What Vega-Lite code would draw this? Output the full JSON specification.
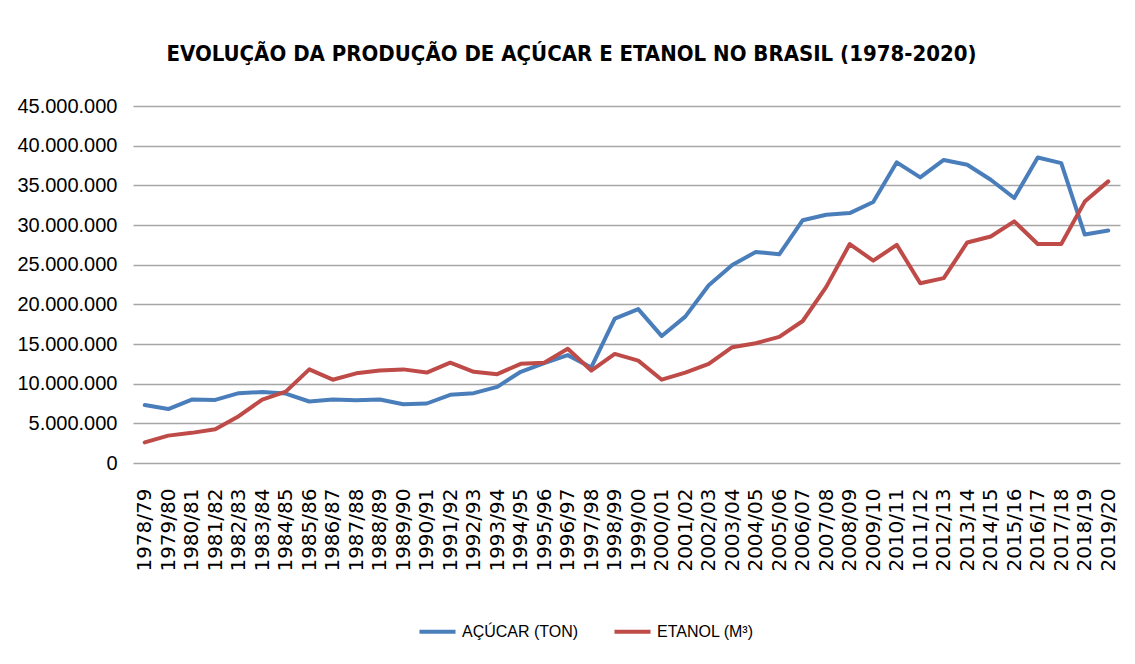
{
  "$schema": "https://vega.github.io/schema/vega-lite/v6.json",
  "autosize": "none",
  "width": 987,
  "height": 357,
  "padding": {"left": 133, "top": 106, "right": 15, "bottom": 201},
  "background": "white",
  "title": {
    "text": "EVOLUÇÃO DA PRODUÇÃO DE AÇÚCAR E ETANOL NO BRASIL (1978-2020)",
    "font": "DejaVu Sans Condensed",
    "fontSize": 22,
    "fontWeight": "bold",
    "color": "#000000",
    "anchor": "middle",
    "dx": -55,
    "offset": 30
  },
  "config": {
    "locale": {"number": {"decimal": ",", "thousands": ".", "grouping": [3], "currency": ["R$", ""]}},
    "view": {"stroke": null},
    "axis": {"labelColor": "#000000"}
  },
  "data": {
    "values": [
      {"ano": "1978/79", "serie": "AÇÚCAR (TON)", "valor": 7300000},
      {"ano": "1979/80", "serie": "AÇÚCAR (TON)", "valor": 6800000},
      {"ano": "1980/81", "serie": "AÇÚCAR (TON)", "valor": 8000000},
      {"ano": "1981/82", "serie": "AÇÚCAR (TON)", "valor": 7950000},
      {"ano": "1982/83", "serie": "AÇÚCAR (TON)", "valor": 8800000},
      {"ano": "1983/84", "serie": "AÇÚCAR (TON)", "valor": 8950000},
      {"ano": "1984/85", "serie": "AÇÚCAR (TON)", "valor": 8750000},
      {"ano": "1985/86", "serie": "AÇÚCAR (TON)", "valor": 7750000},
      {"ano": "1986/87", "serie": "AÇÚCAR (TON)", "valor": 8000000},
      {"ano": "1987/88", "serie": "AÇÚCAR (TON)", "valor": 7900000},
      {"ano": "1988/89", "serie": "AÇÚCAR (TON)", "valor": 8000000},
      {"ano": "1989/90", "serie": "AÇÚCAR (TON)", "valor": 7400000},
      {"ano": "1990/91", "serie": "AÇÚCAR (TON)", "valor": 7500000},
      {"ano": "1991/92", "serie": "AÇÚCAR (TON)", "valor": 8600000},
      {"ano": "1992/93", "serie": "AÇÚCAR (TON)", "valor": 8800000},
      {"ano": "1993/94", "serie": "AÇÚCAR (TON)", "valor": 9600000},
      {"ano": "1994/95", "serie": "AÇÚCAR (TON)", "valor": 11500000},
      {"ano": "1995/96", "serie": "AÇÚCAR (TON)", "valor": 12600000},
      {"ano": "1996/97", "serie": "AÇÚCAR (TON)", "valor": 13600000},
      {"ano": "1997/98", "serie": "AÇÚCAR (TON)", "valor": 12050000},
      {"ano": "1998/99", "serie": "AÇÚCAR (TON)", "valor": 18200000},
      {"ano": "1999/00", "serie": "AÇÚCAR (TON)", "valor": 19400000},
      {"ano": "2000/01", "serie": "AÇÚCAR (TON)", "valor": 16000000},
      {"ano": "2001/02", "serie": "AÇÚCAR (TON)", "valor": 18450000},
      {"ano": "2002/03", "serie": "AÇÚCAR (TON)", "valor": 22400000},
      {"ano": "2003/04", "serie": "AÇÚCAR (TON)", "valor": 24950000},
      {"ano": "2004/05", "serie": "AÇÚCAR (TON)", "valor": 26600000},
      {"ano": "2005/06", "serie": "AÇÚCAR (TON)", "valor": 26300000},
      {"ano": "2006/07", "serie": "AÇÚCAR (TON)", "valor": 30600000},
      {"ano": "2007/08", "serie": "AÇÚCAR (TON)", "valor": 31300000},
      {"ano": "2008/09", "serie": "AÇÚCAR (TON)", "valor": 31500000},
      {"ano": "2009/10", "serie": "AÇÚCAR (TON)", "valor": 32900000},
      {"ano": "2010/11", "serie": "AÇÚCAR (TON)", "valor": 37900000},
      {"ano": "1011/12", "serie": "AÇÚCAR (TON)", "valor": 36000000},
      {"ano": "2012/13", "serie": "AÇÚCAR (TON)", "valor": 38200000},
      {"ano": "2013/14", "serie": "AÇÚCAR (TON)", "valor": 37600000},
      {"ano": "2014/15", "serie": "AÇÚCAR (TON)", "valor": 35700000},
      {"ano": "2015/16", "serie": "AÇÚCAR (TON)", "valor": 33400000},
      {"ano": "2016/17", "serie": "AÇÚCAR (TON)", "valor": 38500000},
      {"ano": "2017/18", "serie": "AÇÚCAR (TON)", "valor": 37800000},
      {"ano": "2018/19", "serie": "AÇÚCAR (TON)", "valor": 28800000},
      {"ano": "2019/20", "serie": "AÇÚCAR (TON)", "valor": 29300000},
      {"ano": "1978/79", "serie": "ETANOL (M³)", "valor": 2600000},
      {"ano": "1979/80", "serie": "ETANOL (M³)", "valor": 3450000},
      {"ano": "1980/81", "serie": "ETANOL (M³)", "valor": 3800000},
      {"ano": "1981/82", "serie": "ETANOL (M³)", "valor": 4250000},
      {"ano": "1982/83", "serie": "ETANOL (M³)", "valor": 5900000},
      {"ano": "1983/84", "serie": "ETANOL (M³)", "valor": 8000000},
      {"ano": "1984/85", "serie": "ETANOL (M³)", "valor": 9000000},
      {"ano": "1985/86", "serie": "ETANOL (M³)", "valor": 11800000},
      {"ano": "1986/87", "serie": "ETANOL (M³)", "valor": 10500000},
      {"ano": "1987/88", "serie": "ETANOL (M³)", "valor": 11300000},
      {"ano": "1988/89", "serie": "ETANOL (M³)", "valor": 11650000},
      {"ano": "1989/90", "serie": "ETANOL (M³)", "valor": 11800000},
      {"ano": "1990/91", "serie": "ETANOL (M³)", "valor": 11400000},
      {"ano": "1991/92", "serie": "ETANOL (M³)", "valor": 12650000},
      {"ano": "1992/93", "serie": "ETANOL (M³)", "valor": 11500000},
      {"ano": "1993/94", "serie": "ETANOL (M³)", "valor": 11200000},
      {"ano": "1994/95", "serie": "ETANOL (M³)", "valor": 12500000},
      {"ano": "1995/96", "serie": "ETANOL (M³)", "valor": 12650000},
      {"ano": "1996/97", "serie": "ETANOL (M³)", "valor": 14400000},
      {"ano": "1997/98", "serie": "ETANOL (M³)", "valor": 11650000},
      {"ano": "1998/99", "serie": "ETANOL (M³)", "valor": 13750000},
      {"ano": "1999/00", "serie": "ETANOL (M³)", "valor": 12900000},
      {"ano": "2000/01", "serie": "ETANOL (M³)", "valor": 10500000},
      {"ano": "2001/02", "serie": "ETANOL (M³)", "valor": 11400000},
      {"ano": "2002/03", "serie": "ETANOL (M³)", "valor": 12500000},
      {"ano": "2003/04", "serie": "ETANOL (M³)", "valor": 14600000},
      {"ano": "2004/05", "serie": "ETANOL (M³)", "valor": 15100000},
      {"ano": "2005/06", "serie": "ETANOL (M³)", "valor": 15900000},
      {"ano": "2006/07", "serie": "ETANOL (M³)", "valor": 17900000},
      {"ano": "2007/08", "serie": "ETANOL (M³)", "valor": 22200000},
      {"ano": "2008/09", "serie": "ETANOL (M³)", "valor": 27600000},
      {"ano": "2009/10", "serie": "ETANOL (M³)", "valor": 25500000},
      {"ano": "2010/11", "serie": "ETANOL (M³)", "valor": 27500000},
      {"ano": "1011/12", "serie": "ETANOL (M³)", "valor": 22650000},
      {"ano": "2012/13", "serie": "ETANOL (M³)", "valor": 23300000},
      {"ano": "2013/14", "serie": "ETANOL (M³)", "valor": 27800000},
      {"ano": "2014/15", "serie": "ETANOL (M³)", "valor": 28550000},
      {"ano": "2015/16", "serie": "ETANOL (M³)", "valor": 30450000},
      {"ano": "2016/17", "serie": "ETANOL (M³)", "valor": 27600000},
      {"ano": "2017/18", "serie": "ETANOL (M³)", "valor": 27600000},
      {"ano": "2018/19", "serie": "ETANOL (M³)", "valor": 32950000},
      {"ano": "2019/20", "serie": "ETANOL (M³)", "valor": 35500000}
    ]
  },
  "mark": {"type": "line", "strokeWidth": 4, "strokeJoin": "round", "strokeCap": "round"},
  "encoding": {
    "x": {
      "field": "ano",
      "type": "ordinal",
      "sort": null,
      "scale": {"type": "point", "padding": 0.5},
      "axis": {
        "title": null,
        "labelAngle": -90,
        "labelAlign": "right",
        "labelBaseline": "middle",
        "labelFont": "DejaVu Sans",
        "labelFontSize": 20,
        "labelPadding": 25,
        "ticks": false,
        "domain": false,
        "grid": false,
        "labelOverlap": false
      }
    },
    "y": {
      "field": "valor",
      "type": "quantitative",
      "scale": {"domain": [0, 45000000], "nice": false},
      "axis": {
        "title": null,
        "values": [0, 5000000, 10000000, 15000000, 20000000, 25000000, 30000000, 35000000, 40000000, 45000000],
        "format": ",d",
        "labelFont": "Liberation Sans",
        "labelFontSize": 20,
        "labelPadding": 16,
        "ticks": false,
        "domain": false,
        "grid": true,
        "gridColor": "#a6a6a6",
        "gridWidth": 1.3
      }
    },
    "color": {
      "field": "serie",
      "type": "nominal",
      "scale": {"domain": ["AÇÚCAR (TON)", "ETANOL (M³)"], "range": ["#4A7EBB", "#BE4B48"]},
      "legend": {
        "title": null,
        "orient": "none",
        "direction": "horizontal",
        "legendX": 284,
        "legendY": 505,
        "symbolType": "stroke",
        "symbolSize": 1300,
        "symbolStrokeWidth": 4,
        "labelFont": "Liberation Sans",
        "labelFontSize": 16,
        "labelColor": "#000000",
        "labelOffset": 4,
        "columnPadding": 27
      }
    }
  }
}
